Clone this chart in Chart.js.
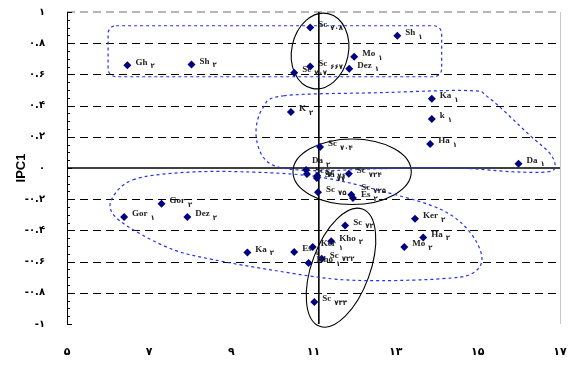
<!DOCTYPE html>
<html><head><meta charset="utf-8">
<script src="https://cdn.jsdelivr.net/npm/chart.js@4/dist/chart.umd.min.js"></script>
<style>html,body{margin:0;padding:0;background:#fff;overflow:hidden;}#wrap{width:568px;height:368px;position:relative;overflow:hidden;}canvas{display:block;}</style>
</head><body><div id="wrap"><canvas id="c"></canvas></div>
<script>
// ---- data ----
const names = ['Gh','Sh','Sc','Sh','Mo','Sc','Sc','Dez','Ka','k','Ha','Da','K','Sc','Da','Sc','Sc','Sc','Sc','Sc','Sc','Es','Gor','Gor','Dez','Ka','Es','Ker','Kho','Sc','Sc','Kho','Sc','Ker','Ha','Mo'];
const subs  = ['۲','۲','۷۰۸','۱','۱','۶۶۷','۷۰۷','۱','۱','۱','۱','۱','۲','۷۰۴','۲','۷۱','۷۶','۷۷','۷۲۴','۷۵','۷۲۵','۲','۲','۱','۲','۲','۱','۱','۲','۷۲','۷۲۲','۱','۷۳۳','۲','۲','۲'];
const xVals = [6.47,8.03,10.92,13.04,11.99,10.92,10.53,11.87,13.88,13.88,13.84,15.99,10.45,11.16,10.82,10.84,11.09,11.08,11.86,11.11,11.92,11.96,7.30,6.39,7.93,9.39,10.53,10.98,11.43,11.77,11.20,10.88,11.02,13.47,13.67,13.21];
const yVals = [0.658,0.664,0.900,0.848,0.713,0.650,0.611,0.637,0.444,0.314,0.154,0.028,0.359,0.135,-0.013,-0.038,-0.049,-0.064,-0.037,-0.156,-0.171,-0.192,-0.229,-0.314,-0.314,-0.542,-0.538,-0.506,-0.470,-0.368,-0.581,-0.609,-0.859,-0.325,-0.445,-0.506];
const xTicks = [5,7,9,11,13,15,17];
const yTicks = [-1,-0.8,-0.6,-0.4,-0.2,0,0.2,0.4,0.6,0.8,1];
const refX = 11.13;
const axisTitle = 'IPC1';

// ---- annotation outlines (data coordinates) ----
const groupBox = {x0:6.0, x1:14.12, y0:0.585, y1:0.912};
const ellipses = [
  {cx:11.16, cy:0.75, rx:0.69, ry:0.245, rot:0.21},
  {cx:11.94, cy:-0.024, rx:1.44, ry:0.21, rot:0},
  {cx:11.67, cy:-0.639, rx:0.71, ry:0.40, rot:0.35}
];
const curveA = [[10.28,0.463],[12.65,0.483],[14.78,0.496],[15.27,0.450],[16.25,0.213],[16.74,0.098],[16.88,0.015],[16.71,-0.024],[15.83,-0.024],[14.36,0.002],[12.65,-0.004],[11.19,-0.017],[10.21,0.002],[9.77,0.072],[9.60,0.226],[9.77,0.386]];
const curveB = [[6.61,-0.075],[7.76,-0.030],[9.23,-0.024],[11.09,-0.056],[12.82,-0.159],[14.12,-0.268],[14.80,-0.409],[15.10,-0.576],[14.85,-0.678],[14.12,-0.710],[12.65,-0.722],[11.43,-0.710],[9.96,-0.653],[8.57,-0.588],[7.59,-0.524],[6.61,-0.396],[6.10,-0.287],[6.12,-0.184]];

const labelShift = {'Da ۲':[6,-9], 'Sc ۷۲۵':[10,-7]};

const faD = '۰۱۲۳۴۵۶۷۸۹';
function fa(v){ const s = String(Math.round(v*10)/10); return s.replace(/\d/g, d => faD[+d]); }

function closedSmooth(ctx, pts){
  const n = pts.length;
  ctx.beginPath();
  ctx.moveTo(pts[0][0], pts[0][1]);
  for (let i=0;i<n;i++){
    const p0=pts[(i-1+n)%n], p1=pts[i], p2=pts[(i+1)%n], p3=pts[(i+2)%n];
    const c1x=p1[0]+(p2[0]-p0[0])/6, c1y=p1[1]+(p2[1]-p0[1])/6;
    const c2x=p2[0]-(p3[0]-p1[0])/6, c2y=p2[1]-(p3[1]-p1[1])/6;
    ctx.bezierCurveTo(c1x,c1y,c2x,c2y,p2[0],p2[1]);
  }
  ctx.closePath();
}

const deco = {
  id:'deco',
  beforeDatasetsDraw(chart){
    const {ctx, chartArea:a, scales:{x,y}} = chart;
    ctx.save();
    ctx.strokeStyle='#a0a0a0'; ctx.lineWidth=1.5; ctx.setLineDash([8,5]);
    ctx.beginPath(); ctx.moveTo(a.left, Math.round(y.getPixelForValue(1))); ctx.lineTo(a.right, Math.round(y.getPixelForValue(1))); ctx.stroke();
    ctx.setLineDash([]); ctx.strokeStyle='#c8c8c8'; ctx.lineWidth=1;
    ctx.beginPath(); ctx.moveTo(a.right+0.5, a.top); ctx.lineTo(a.right+0.5, a.bottom); ctx.stroke();
    ctx.strokeStyle='#000'; ctx.lineWidth=1; ctx.setLineDash([8,5]);
    yTicks.forEach(v=>{
      if (Math.abs(v)<1e-9 || Math.abs(Math.abs(v)-1)<1e-9) return;
      const py = Math.round(y.getPixelForValue(v))+0.5;
      ctx.beginPath(); ctx.moveTo(a.left, py); ctx.lineTo(a.right, py); ctx.stroke();
    });
    ctx.setLineDash([]);
    ctx.lineWidth=1.6;
    const py0 = y.getPixelForValue(0);
    ctx.beginPath(); ctx.moveTo(a.left, py0); ctx.lineTo(a.right, py0); ctx.stroke();
    const px = x.getPixelForValue(refX);
    ctx.beginPath(); ctx.moveTo(px, a.top); ctx.lineTo(px, a.bottom); ctx.stroke();
    ctx.lineWidth=1;
    for (let k=-20;k<=20;k++){
      const v=k*0.05, tpy=Math.round(y.getPixelForValue(v))+0.5;
      const len = (k%4===0)?5:3;
      ctx.beginPath(); ctx.moveTo(a.left, tpy); ctx.lineTo(a.left+len, tpy); ctx.stroke();
    }
    ctx.lineWidth=1.1; ctx.strokeStyle='#000';
    ellipses.forEach(e=>{
      const cx=x.getPixelForValue(e.cx), cy=y.getPixelForValue(e.cy);
      const rx=Math.abs(x.getPixelForValue(e.cx+e.rx)-cx), ry=Math.abs(y.getPixelForValue(e.cy+e.ry)-cy);
      ctx.beginPath(); ctx.ellipse(cx,cy,rx,ry,e.rot,0,Math.PI*2); ctx.stroke();
    });
    ctx.strokeStyle='#2233ee'; ctx.lineWidth=1.2; ctx.setLineDash([3,3]);
    const bx0=x.getPixelForValue(groupBox.x0), bx1=x.getPixelForValue(groupBox.x1);
    const by0=y.getPixelForValue(groupBox.y1), by1=y.getPixelForValue(groupBox.y0);
    ctx.beginPath(); ctx.roundRect(bx0,by0,bx1-bx0,by1-by0,8); ctx.stroke();
    [curveA,curveB].forEach(c=>{
      const pts=c.map(p=>[x.getPixelForValue(p[0]), y.getPixelForValue(p[1])]);
      closedSmooth(ctx,pts); ctx.stroke();
    });
    ctx.restore();
  },
  afterDatasetsDraw(chart){
    const {ctx} = chart;
    const meta = chart.getDatasetMeta(0);
    ctx.save();
    ctx.fillStyle='#222'; ctx.textBaseline='middle'; ctx.textAlign='left';
    meta.data.forEach((pt,i)=>{
      const key = names[i]+' '+subs[i];
      const sh = labelShift[key] || [8,-3];
      const lx = pt.x+sh[0], ly = pt.y+sh[1];
      ctx.font='bold 9px "Liberation Serif", "DejaVu Serif", serif';
      ctx.fillText(names[i], lx, ly);
      const w = ctx.measureText(names[i]).width;
      ctx.font='bold 7px "DejaVu Sans", sans-serif';
      ctx.fillText(subs[i], lx+w+3, ly+4);
    });
    ctx.restore();
  }
};

const points = xVals.map((v,i)=>({x:v, y:yVals[i]}));

new Chart(document.getElementById('c'), {
  type:'scatter',
  data:{ datasets:[{ data:points, pointStyle:'rectRot', pointRadius:4, pointHoverRadius:4,
    backgroundColor:'#000080', borderColor:'#000080', borderWidth:0 }]},
  options:{
    responsive:true, maintainAspectRatio:false, animation:false,
    layout:{autoPadding:false, padding:{top:12, right:8, bottom:0, left:0}},
    plugins:{legend:{display:false}, tooltip:{enabled:false}},
    scales:{
      x:{ type:'linear', min:5, max:17, afterBuildTicks:s=>{s.ticks=xTicks.map(v=>({value:v}));},
        afterFit:s=>{s.height=44; s.paddingLeft=0; s.paddingRight=0;},
        grid:{display:false, drawTicks:false}, border:{display:false},
        ticks:{padding:22, color:'#000', font:{family:'"DejaVu Sans", sans-serif', size:11, weight:'bold'}, callback:v=>fa(v), maxRotation:0, autoSkip:false}
      },
      y:{ type:'linear', min:-1, max:1, afterBuildTicks:s=>{s.ticks=yTicks.map(v=>({value:v}));},
        afterFit:s=>{s.width=67; s.paddingTop=0; s.paddingBottom=0;},
        grid:{display:false, drawTicks:false}, border:{display:true, color:'#000', width:1},
        ticks:{padding:22, color:'#000', font:{family:'"DejaVu Sans", sans-serif', size:10, weight:'bold'}, callback:v=>fa(v), autoSkip:false},
        title:{display:true, text:axisTitle, color:'#000', font:{family:'"Liberation Sans", Arial, sans-serif', size:13, weight:'bold'}, padding:{top:14,bottom:0}}
      }
    }
  },
  plugins:[deco]
});
</script></body></html>
